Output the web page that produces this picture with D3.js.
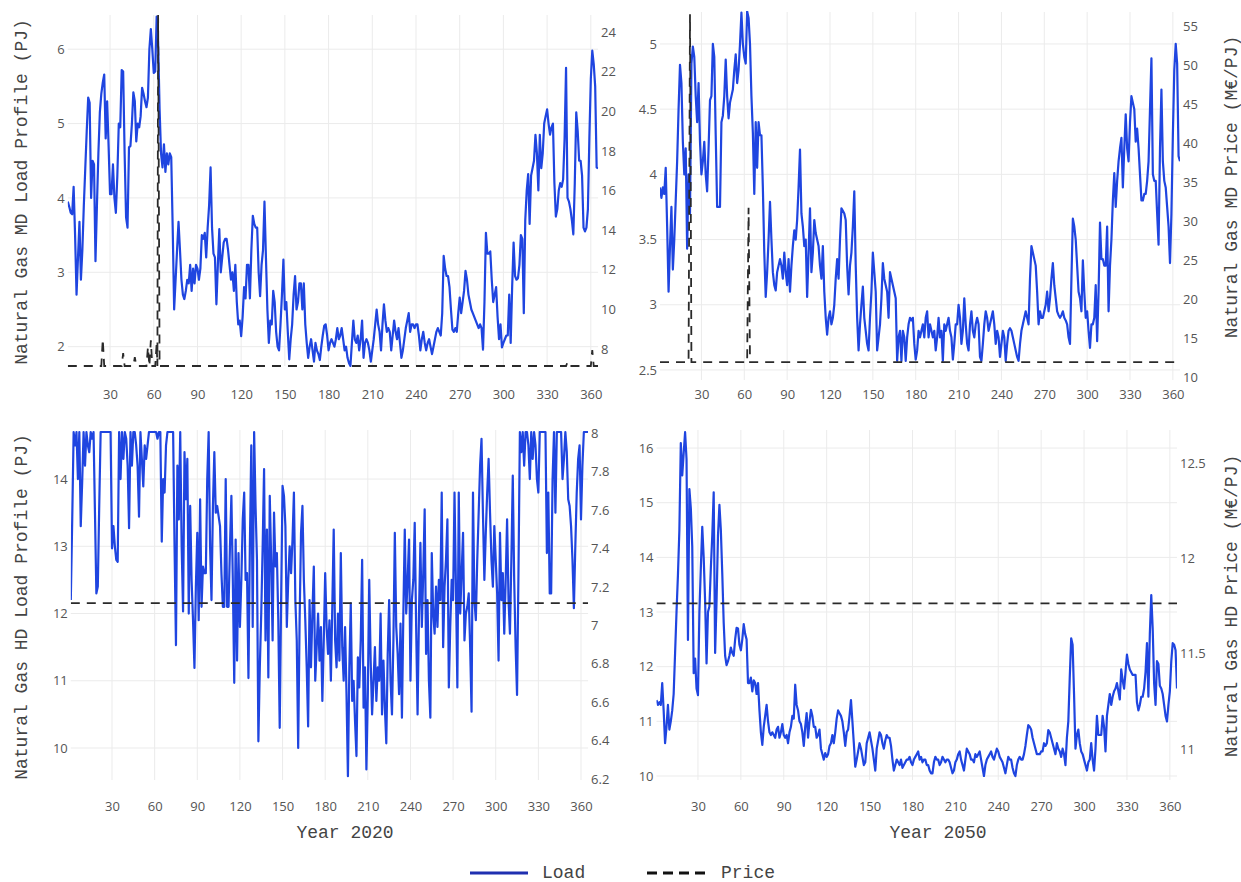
<!DOCTYPE html>
<html>
<head>
<meta charset="utf-8">
<script src="https://cdn.jsdelivr.net/npm/d3@7"></script>
<style>
  body { margin: 0; background: #fff; }
  .tick text { font-family: 'Open Sans', sans-serif; font-size: 13px; fill: #555; }
  .title { font-family: 'Liberation Mono', 'Courier New', monospace; font-size: 18px; fill: #444; }
</style>
</head>
<body>
<div id="chart"></div>
<script>
// day-of-year ticks
const xTicks = [30, 60, 90, 120, 150, 180, 210, 240, 270, 300, 330, 360]

// Natural Gas MD, 2020
const md2020Load = [
  3.95, 3.88, 3.8, 3.78, 4.15, 3.5, 2.7, 3.2, 3.68, 2.9,
  3.3, 3.9, 4.4, 4.9, 5.35, 5.28, 4.0, 4.5, 4.45, 3.15,
  3.9, 4.6, 5.15, 5.4, 5.55, 5.66, 4.8, 5.3, 4.7, 4.05,
  4.05, 4.45, 4.0, 3.8, 4.3, 5.0, 4.95, 5.72, 5.7, 4.6,
  3.74, 3.6, 4.68, 4.7, 5.0, 5.42, 5.3, 4.76, 5.0, 4.95,
  5.1, 5.48, 5.4, 5.3, 5.22, 5.35, 6.0, 6.27, 6.0, 5.68,
  5.7, 6.44, 6.1, 5.2, 4.6, 4.41, 4.72, 4.35, 4.6, 4.45,
  4.6, 4.55, 3.6, 2.5, 2.9, 3.3, 3.68, 3.3, 2.9, 2.7,
  2.64, 2.75, 2.9, 2.85, 3.1, 2.75, 3.05, 2.85, 3.1, 3.05,
  2.9, 3.05, 3.5, 3.45, 3.53, 3.2, 3.6, 3.9, 4.41, 3.6,
  3.25, 3.2, 2.57, 3.1, 3.58, 3.0, 3.2, 3.4, 3.45, 3.45,
  3.3, 3.1, 2.9, 3.0, 2.75, 3.1, 2.6, 2.3, 2.35, 2.14,
  2.4, 2.8, 2.65, 3.1, 3.1, 2.65, 3.3, 3.76, 3.65, 3.6,
  3.6, 3.0, 2.68, 3.1, 3.3, 3.95, 3.2, 2.5, 2.05, 2.35,
  2.3, 2.75, 2.6, 2.2, 2.0, 1.95, 2.3, 2.7, 3.17, 2.5,
  2.6, 2.2, 1.83, 2.1, 2.3, 2.7, 2.95, 2.5, 2.6, 2.85,
  2.85, 2.5, 2.85, 2.3, 2.05, 1.85, 2.0, 2.1, 1.95, 1.8,
  2.05, 1.95, 1.9, 1.82, 2.0, 2.15, 2.28, 2.3, 2.15, 1.95,
  2.05, 2.1, 2.05, 2.0, 2.1, 2.25, 2.1, 2.15, 2.25, 2.1,
  1.95, 2.0, 1.85, 1.78, 1.74, 2.05, 2.35, 2.1, 2.05, 2.15,
  1.95, 2.1, 2.35, 1.85, 2.05, 2.1, 2.05, 1.95, 1.8, 1.95,
  2.1, 2.3, 2.5, 2.3, 2.2, 1.95, 2.3, 2.57, 2.35, 2.2,
  2.25, 2.2, 1.95, 2.15, 2.35, 2.2, 2.1, 2.25, 2.05, 1.85,
  1.95, 2.1, 2.25, 2.35, 2.45, 2.2, 2.3, 2.3, 2.25, 2.3,
  2.3, 2.15, 1.95, 2.1, 2.2, 2.05, 1.95, 2.05, 2.1, 2.0,
  1.9, 2.0, 2.1, 2.2, 2.25, 2.2, 2.15, 2.45, 3.22, 3.05,
  2.95, 2.95, 2.8, 2.5, 2.23, 2.2, 2.25, 2.2, 2.45, 2.66,
  2.45, 2.6, 2.75, 3.02, 2.9, 2.7, 2.6, 2.5, 2.45, 2.4,
  2.35, 2.3, 2.25, 2.3, 2.25, 1.96, 2.6, 3.53, 3.25, 3.25,
  3.28, 2.9, 2.6, 2.7, 2.8, 2.4, 2.1, 2.3, 1.99, 2.05,
  2.1, 2.15, 2.15, 2.7, 2.05, 2.8, 3.4, 2.95, 2.9, 2.92,
  3.1, 3.5, 3.45, 2.45, 3.7, 4.1, 4.32, 3.65, 4.3, 4.4,
  4.5, 4.85, 4.6, 4.1, 4.85, 4.4, 4.6, 5.0, 5.1, 5.19,
  5.0, 4.85, 4.95, 5.0, 4.2, 3.75, 3.85, 4.1, 4.2, 4.15,
  4.25, 4.8, 5.75, 4.0, 3.95, 3.85, 3.7, 3.51, 4.2, 5.15,
  4.9, 4.5, 4.5, 4.3, 3.6, 3.55, 3.6, 3.85, 4.8, 5.6,
  5.98, 5.8, 5.5, 4.41, 4.4
]
// [day, price] break points
const md2020Price = [
  [1, 7.15], [24, 7.15], [25, 8.5], [26, 7.15], [38, 7.15], [39, 7.8], [40, 7.15],
  [46, 7.15], [47, 7.6], [48, 7.15], [55, 7.15], [56, 8.1], [57, 7.15], [58, 8.45],
  [59, 7.15], [61, 7.15], [62, 8.3], [62.5, 7.15], [63, 24.85], [64, 7.15],
  [343, 7.15], [344, 7.35], [345, 7.15], [360, 7.15], [361, 7.95], [362, 7.15], [365, 7.15]
]
const md2020LoadTicks = [2, 3, 4, 5, 6]
const md2020PriceTicks = [8, 10, 12, 14, 16, 18, 20, 22, 24]

// Natural Gas MD, 2050
const md2050Load = [
  3.9, 3.82, 3.9, 3.85, 4.05, 3.6, 3.1, 3.45, 3.75, 3.27,
  3.5, 3.8, 4.1, 4.5, 4.84, 4.7, 4.25, 4.0, 4.2, 3.43,
  4.0, 3.7, 4.85, 4.98, 4.9, 4.6, 4.4, 4.7, 4.25, 4.0,
  4.1, 4.25, 4.0, 3.87, 4.2, 4.57, 4.6, 5.0, 4.9, 4.3,
  3.75, 3.75, 3.75, 4.4, 4.45, 4.6, 4.88, 4.6, 4.43, 4.55,
  4.6, 4.65, 4.8, 4.92, 4.7, 4.8, 5.0, 5.24, 5.0, 4.9,
  4.85, 5.25, 5.2, 5.0, 4.6, 4.32, 3.85, 4.4, 4.05, 4.4,
  4.3, 4.3, 3.9, 3.4, 3.06, 3.25, 3.5, 3.79, 3.5, 3.25,
  3.15, 3.11, 3.25, 3.3, 3.35, 3.3, 3.2, 3.4, 3.25, 3.15,
  3.35, 3.1, 3.3, 3.45, 3.57, 3.5, 3.65, 3.9, 4.19, 3.7,
  3.6, 3.45, 3.5, 3.06, 3.4, 3.74, 3.25, 3.4, 3.65, 3.55,
  3.5, 3.45, 3.3, 3.2, 3.45, 3.1, 2.9, 2.77, 2.9, 2.95,
  2.85, 2.9, 3.0, 3.2, 3.35, 3.2, 3.5, 3.74, 3.72, 3.7,
  3.65, 3.3, 3.08, 3.3, 3.4, 3.6, 3.87, 3.3, 2.9, 2.65,
  2.85, 3.0, 3.14, 2.9, 2.8, 2.7, 2.65, 2.9, 3.1, 3.4,
  3.25, 3.1, 2.65, 2.75, 2.85, 3.05, 3.32, 3.2, 3.15, 3.1,
  2.9, 3.25, 3.2, 3.15, 3.1, 3.05, 2.57, 2.75, 2.8, 2.57,
  2.8, 2.75, 2.57, 2.75, 2.85, 2.9, 2.88, 2.9, 2.7, 2.58,
  2.65, 2.8, 2.75, 2.8, 2.85, 2.75, 2.9, 2.95, 2.75, 2.85,
  2.8, 2.75, 2.8, 2.65, 2.75, 2.9, 2.75, 2.8, 2.57, 2.85,
  2.8, 2.85, 2.9, 2.8, 2.75, 2.58, 2.7, 2.85, 2.85, 3.0,
  2.9, 2.7, 2.8, 3.05, 2.85, 2.7, 2.65, 2.85, 2.95, 2.8,
  2.75, 2.85, 2.9, 2.85, 2.6, 2.57, 2.7, 2.85, 2.95, 2.9,
  2.8, 2.85, 2.9, 2.95, 2.85, 2.7, 2.8, 2.75, 2.6, 2.7,
  2.8, 2.75, 2.57, 2.7, 2.8, 2.82, 2.8, 2.75, 2.7, 2.65,
  2.6, 2.57, 2.7, 2.8, 2.85, 2.9, 2.95, 2.9, 2.85, 3.2,
  3.45, 3.4, 3.35, 3.3, 3.1, 2.85, 2.95, 2.9, 2.9, 2.95,
  3.0, 3.1, 2.95, 3.05, 3.2, 3.32, 3.15, 3.05, 2.95, 2.92,
  2.9, 2.92, 2.95, 2.9, 2.88, 2.85, 2.75, 2.7, 3.2, 3.66,
  3.6, 3.5, 3.3, 3.1, 3.05, 2.95, 3.34, 3.1, 2.9, 2.95,
  2.8, 2.67, 2.85, 2.85, 2.9, 3.15, 2.72, 3.1, 3.63, 3.35,
  3.35, 3.3, 3.3, 3.6, 2.95, 3.3, 3.5, 3.8, 4.01, 3.75,
  3.95, 4.1, 4.2, 4.28, 3.9, 4.2, 4.46, 4.2, 4.1, 4.4,
  4.6, 4.55, 4.5, 4.25, 4.35, 4.2, 4.0, 3.8, 3.8, 3.85,
  3.85, 3.95, 4.1, 4.5, 4.89, 4.0, 3.95, 3.95, 3.7, 3.46,
  4.2, 4.65, 4.1, 3.95, 3.9, 3.75, 3.6, 3.32, 3.7, 4.3,
  4.8, 5.0, 4.85, 4.14, 4.1
]
const md2050Price = [
  [1, 11.9], [21, 11.9], [22, 56.5], [23, 11.9], [62, 11.9], [63, 31.7], [64, 11.9], [365, 11.9]
]
const md2050LoadTicks = [2.5, 3, 3.5, 4, 4.5, 5]
const md2050PriceTicks = [10, 15, 20, 25, 30, 35, 40, 45, 50, 55]

// Natural Gas HD, 2020
const hd2020Load = [
  12.2, 13.4, 14.7, 14.5, 14.7, 14.0, 14.7, 13.3, 13.95, 14.7,
  14.2, 14.7, 14.5, 14.4, 14.7, 14.6, 14.7, 13.5, 12.3, 12.4,
  13.6, 14.7, 14.7, 14.7, 14.7, 14.7, 14.7, 14.7, 14.7, 12.97,
  13.3, 13.0, 12.8, 12.77, 14.7, 14.0, 14.7, 14.3, 14.7, 14.6,
  14.2, 13.27, 14.7, 14.2, 14.7, 14.7, 14.5, 14.2, 13.44, 14.7,
  14.3, 13.89, 14.5, 14.3, 14.5, 14.7, 14.7, 14.7, 14.7, 14.7,
  14.7, 14.6, 14.7, 14.7, 13.07, 14.0, 13.8, 14.5, 14.7, 14.7,
  14.7, 14.7, 14.7, 13.0, 11.53, 14.2, 13.4, 14.7, 13.0, 12.03,
  14.4, 13.7, 14.3, 12.0, 13.6, 12.5, 11.9, 11.19, 12.4, 13.2,
  11.9, 13.7, 12.1, 12.7, 12.6, 12.6, 14.0, 14.7, 13.0, 12.2,
  13.6, 14.4, 13.5, 13.6, 13.45, 13.3, 12.6, 12.1, 12.1, 14.0,
  12.1, 12.1, 13.0, 13.75, 12.5, 10.97, 13.1, 11.3, 12.9, 11.8,
  12.5, 13.4, 13.8, 12.5, 12.6, 11.04, 13.0, 14.5, 11.8, 14.7,
  13.6, 12.8, 10.1, 11.2, 12.0, 13.0, 14.15, 11.6, 13.25, 11.05,
  13.75, 12.8, 11.6, 13.5, 12.7, 12.9, 11.9, 10.3, 12.2, 13.9,
  13.75, 13.3, 11.8, 12.5, 13.0, 12.6, 13.1, 13.8, 12.2, 11.6,
  10.0, 11.9, 13.2, 13.6, 12.5, 11.9, 11.2, 10.32, 12.2, 11.2,
  12.0, 12.7, 11.0, 11.5, 12.0, 11.3, 11.8, 10.7, 11.6, 12.6,
  11.8, 11.4, 11.9, 11.0, 12.1, 13.25, 11.6, 11.2, 12.0, 11.3,
  12.9, 11.5, 11.0, 11.8, 10.8, 9.58, 11.2, 12.15, 10.7, 11.0,
  10.4, 9.88, 11.35, 10.9, 11.6, 12.8, 10.6, 11.2, 9.68, 10.8,
  12.5, 11.3, 10.5, 11.0, 11.5, 10.7, 11.2, 11.0, 12.0, 10.5,
  11.3, 10.6, 10.07, 11.4, 12.2, 11.0, 10.5, 11.6, 13.2, 11.8,
  11.4, 10.8, 11.85, 10.45, 12.0, 13.25, 12.0, 12.5, 13.1, 11.0,
  12.2, 12.5, 13.35, 11.8, 10.5, 12.0, 13.05, 11.8, 12.6, 13.55,
  11.4, 12.2, 11.0, 10.45, 12.9, 12.0, 11.7, 12.4, 11.8, 12.5,
  12.2, 13.8, 11.5, 12.4, 12.8, 13.4, 10.9, 11.8, 12.5, 12.2,
  13.8, 12.4, 10.9, 13.8, 12.0, 12.6, 13.2, 11.6, 12.0, 12.1,
  12.3, 11.5, 10.54, 13.8, 12.2, 11.9, 12.8, 13.5, 14.2, 14.6,
  13.5, 12.5, 13.2, 13.8, 14.3, 13.5, 12.8, 12.4, 13.3, 12.8,
  12.3, 11.3, 13.2, 12.2, 12.6, 11.7, 12.5, 13.4, 12.2, 11.7,
  12.8, 14.05, 12.5, 11.5, 10.79, 12.6, 14.7, 14.4, 14.7, 14.2,
  14.7, 14.7, 14.5, 14.0, 14.7, 14.3, 14.7, 14.5, 14.0, 13.8,
  14.7, 14.7, 14.7, 14.7, 14.7, 12.9, 13.8, 12.3, 12.3, 14.0,
  14.7, 13.5, 14.7, 14.7, 14.7, 14.7, 14.0, 14.3, 14.7, 14.4,
  13.7, 13.6, 13.3, 12.8, 12.08, 13.0, 13.8, 14.3, 14.5, 13.4,
  14.2, 14.7, 14.7, 14.7, 14.7
]
const hd2020Price = [[1, 7.115], [365, 7.115]]
const hd2020LoadTicks = [10, 11, 12, 13, 14]
const hd2020PriceTicks = [6.2, 6.4, 6.6, 6.8, 7, 7.2, 7.4, 7.6, 7.8, 8]

// Natural Gas HD, 2050
const hd2050Load = [
  11.39, 11.3, 11.35, 11.3, 11.7, 11.2, 10.6, 10.9, 11.3, 10.85,
  11.0, 11.2, 11.5, 12.25, 13.0, 13.68, 14.5, 16.09, 15.5, 15.9,
  16.29, 15.8, 12.49, 15.25, 14.9, 14.2, 11.88, 12.15, 11.6, 11.48,
  13.0, 13.8, 14.56, 14.0, 13.2, 12.06, 13.0, 13.1, 13.8, 14.4,
  15.19, 12.25, 13.2, 14.4, 14.96, 14.5, 13.7, 12.8, 12.2, 12.03,
  12.1, 12.2, 12.35, 12.25, 12.2, 12.5, 12.71, 12.7, 12.4, 12.3,
  12.5, 12.78, 12.6, 12.5, 11.7, 11.7, 11.8, 11.55, 11.75, 11.7,
  11.5, 11.7, 11.2, 10.8, 10.57, 10.9, 11.1, 11.3, 11.0, 10.8,
  10.75, 10.8, 10.75, 10.7, 10.85, 10.9, 10.7, 10.8, 10.95, 10.75,
  10.7, 10.75, 10.6, 10.8, 10.9, 11.1, 11.05, 11.67, 11.3, 11.2,
  11.0, 10.95, 10.8, 10.55, 10.9, 11.15, 10.7, 11.0, 11.21, 11.1,
  10.9, 10.9, 10.7, 10.75, 10.85, 10.5, 10.4, 10.3, 10.42, 10.35,
  10.4, 10.55, 10.6, 10.75, 10.6, 10.8, 11.05, 11.2, 11.15, 11.1,
  11.0, 10.8, 10.55, 10.8, 10.85, 11.1, 11.39, 11.0, 10.6, 10.17,
  10.3, 10.45, 10.6, 10.5, 10.35, 10.2, 10.25, 10.6, 10.7, 10.8,
  10.65, 10.5, 10.3, 10.1, 10.5, 10.65, 10.8, 10.75, 10.6, 10.5,
  10.65, 10.75, 10.7, 10.7, 10.55, 10.3, 10.1, 10.2, 10.3, 10.25,
  10.2, 10.3, 10.15, 10.2, 10.25, 10.3, 10.3, 10.35, 10.25, 10.2,
  10.3, 10.35, 10.4, 10.45, 10.3, 10.35, 10.25, 10.3, 10.3, 10.2,
  10.2, 10.1, 10.05, 10.05, 10.25, 10.35, 10.3, 10.3, 10.2, 10.25,
  10.35, 10.3, 10.25, 10.3, 10.3, 10.25, 10.15, 10.05, 10.1, 10.25,
  10.3, 10.4, 10.45, 10.3, 10.2, 10.1, 10.3, 10.5, 10.45, 10.4,
  10.3, 10.3, 10.25, 10.4, 10.35, 10.4, 10.45, 10.3, 10.15, 10.0,
  10.2, 10.3, 10.35, 10.4, 10.45, 10.35, 10.3, 10.4, 10.5, 10.45,
  10.35, 10.3, 10.25, 10.15, 10.05, 10.2, 10.35, 10.3, 10.3, 10.15,
  10.05, 10.0, 10.2, 10.3, 10.35, 10.3, 10.3, 10.4, 10.55, 10.75,
  10.93, 10.9, 10.85, 10.7, 10.6, 10.5, 10.4, 10.4, 10.4, 10.45,
  10.45, 10.6, 10.55, 10.6, 10.84, 10.8, 10.7, 10.6, 10.5, 10.4,
  10.6, 10.5, 10.45, 10.35, 10.5, 10.4, 10.2, 10.7, 11.0, 11.8,
  12.52, 12.4, 11.5, 10.5, 10.75, 10.85, 10.6, 10.45, 10.4, 10.3,
  10.2, 10.1, 10.25, 10.3, 10.6, 10.3, 10.1, 10.5, 11.1, 10.75,
  10.75, 10.75, 11.1, 10.9, 10.45, 11.1, 11.3, 11.5, 11.3, 11.45,
  11.55, 11.6, 11.7, 11.55, 11.4, 11.95, 11.75, 11.6, 11.9, 12.22,
  12.05, 11.95, 11.9, 11.85, 11.85, 11.85, 11.35, 11.2, 11.3, 11.45,
  11.45, 11.6, 11.9, 12.43, 11.45, 12.6, 13.31, 12.7, 11.7, 11.3,
  12.1, 12.05, 11.65, 11.6, 11.5, 11.3, 11.1, 11.0, 11.3, 11.55,
  12.1, 12.43, 12.4, 12.3, 11.6
]
const hd2050Price = [[1, 11.764], [365, 11.764]]
const hd2050LoadTicks = [10, 11, 12, 13, 14, 15, 16]
const hd2050PriceTicks = [11, 11.5, 12, 12.5]

const chartWidth = 1241
const chartHeight = 882
const loadColor = '#1f45e0'

const svg = d3
  .select('#chart')
  .append('svg')
  .attr('width', chartWidth)
  .attr('height', chartHeight)
  .style('background', '#fff')

// layout of the four panels
const panels = [
  {
    id: 'md2020', load: md2020Load, price: md2020Price,
    loadTicks: md2020LoadTicks, priceTicks: md2020PriceTicks,
    x0: 67.8, x1: 598.1, top: 15, bottom: 366,
    loadDomain: [1.74, 6.46], priceDomain: [7.15, 24.85], tickY: 399,
    leftTitle: 'Natural Gas MD Load Profile (PJ)', leftTitleY: 192,
  },
  {
    id: 'md2050', load: md2050Load, price: md2050Price,
    loadTicks: md2050LoadTicks, priceTicks: md2050PriceTicks,
    x0: 660, x1: 1180, top: 12, bottom: 380,
    loadDomain: [2.423, 5.245], priceDomain: [9.615, 56.8], tickY: 399,
    rightTitle: 'Natural Gas MD Price (M€/PJ)', rightTitleY: 187,
  },
  {
    id: 'hd2020', load: hd2020Load, price: hd2020Price,
    loadTicks: hd2020LoadTicks, priceTicks: hd2020PriceTicks,
    x0: 70.8, x1: 588.1, top: 430, bottom: 780,
    loadDomain: [9.524, 14.73], priceDomain: [6.195, 8.016], tickY: 811,
    leftTitle: 'Natural Gas HD Load Profile (PJ)', leftTitleY: 607,
    xTitle: 'Year 2020', xTitleX: 345,
  },
  {
    id: 'hd2050', load: hd2050Load, price: hd2050Price,
    loadTicks: hd2050LoadTicks, priceTicks: hd2050PriceTicks,
    x0: 656.5, x1: 1177, top: 430, bottom: 780,
    loadDomain: [9.927, 16.33], priceDomain: [10.837, 12.673], tickY: 811,
    rightTitle: 'Natural Gas HD Price (M€/PJ)', rightTitleY: 606,
    xTitle: 'Year 2050', xTitleX: 938,
  },
]

function drawPanel(p) {
  const scaleX = d3.scaleLinear().domain([1, 365]).range([p.x0, p.x1])
  const scaleLoad = d3.scaleLinear().domain(p.loadDomain).range([p.bottom, p.top])
  const scalePrice = d3.scaleLinear().domain(p.priceDomain).range([p.bottom, p.top])
  const g = svg.append('g').attr('id', p.id)

  // grid
  g.append('g')
    .selectAll('line')
    .data(xTicks)
    .enter()
    .append('line')
    .attr('x1', d => scaleX(d))
    .attr('x2', d => scaleX(d))
    .attr('y1', p.top)
    .attr('y2', p.bottom)
    .attr('stroke', '#ebebeb')
    .attr('stroke-width', 1)

  g.append('g')
    .selectAll('line')
    .data(p.loadTicks)
    .enter()
    .append('line')
    .attr('x1', p.x0)
    .attr('x2', p.x1)
    .attr('y1', d => scaleLoad(d))
    .attr('y2', d => scaleLoad(d))
    .attr('stroke', '#ebebeb')
    .attr('stroke-width', 1)

  // axes (labels only)
  const fmt = d => String(d)
  g.append('g')
    .attr('transform', 'translate(0,' + (p.tickY - 9) + ')')
    .call(d3.axisBottom(scaleX).tickValues(xTicks).tickSize(0).tickPadding(0).tickFormat(fmt))
    .call(a => a.select('.domain').remove())

  g.append('g')
    .attr('transform', 'translate(' + (p.x0 - 3) + ',0)')
    .call(d3.axisLeft(scaleLoad).tickValues(p.loadTicks).tickSize(0).tickPadding(0).tickFormat(fmt))
    .call(a => a.select('.domain').remove())

  g.append('g')
    .attr('transform', 'translate(' + (p.x1 + 3) + ',0)')
    .call(d3.axisRight(scalePrice).tickValues(p.priceTicks).tickSize(0).tickPadding(0).tickFormat(fmt))
    .call(a => a.select('.domain').remove())

  // clip to plot area
  svg
    .append('clipPath')
    .attr('id', 'clip-' + p.id)
    .append('rect')
    .attr('x', p.x0)
    .attr('y', p.top - 1)
    .attr('width', p.x1 - p.x0)
    .attr('height', p.bottom - p.top + 2)

  const plot = g.append('g').attr('clip-path', 'url(#clip-' + p.id + ')')

  const loadLine = d3
    .line()
    .x((d, i) => scaleX(i + 1))
    .y(d => scaleLoad(d))

  plot
    .append('path')
    .datum(p.load)
    .attr('d', loadLine)
    .attr('fill', 'none')
    .attr('stroke', loadColor)
    .attr('stroke-width', 2.2)
    .attr('stroke-linejoin', 'round')

  const priceLine = d3
    .line()
    .x(d => scaleX(d[0]))
    .y(d => scalePrice(d[1]))

  plot
    .append('path')
    .datum(p.price)
    .attr('d', priceLine)
    .attr('fill', 'none')
    .attr('stroke', '#2a2a2a')
    .attr('stroke-width', 1.8)
    .attr('stroke-dasharray', '9,7')

  // titles
  if (p.leftTitle) {
    g.append('text')
      .attr('class', 'title')
      .attr('transform', 'translate(27,' + p.leftTitleY + ') rotate(-90)')
      .attr('text-anchor', 'middle')
      .text(p.leftTitle)
  }
  if (p.rightTitle) {
    g.append('text')
      .attr('class', 'title')
      .attr('transform', 'translate(1237,' + p.rightTitleY + ') rotate(-90)')
      .attr('text-anchor', 'middle')
      .text(p.rightTitle)
  }
  if (p.xTitle) {
    g.append('text')
      .attr('class', 'title')
      .attr('x', p.xTitleX)
      .attr('y', 838)
      .attr('text-anchor', 'middle')
      .text(p.xTitle)
  }
}
panels.forEach(drawPanel)

// Legend
function createLegend() {
  const legend = svg.append('g').attr('class', 'legend')
  legend.append('line')
    .attr('x1', 470).attr('x2', 528).attr('y1', 873).attr('y2', 873)
    .attr('stroke', '#1f2fb0').attr('stroke-width', 3)
  legend.append('text')
    .attr('class', 'title').attr('x', 542).attr('y', 878)
    .text('Load')
  legend.append('line')
    .attr('x1', 647).attr('x2', 705).attr('y1', 873).attr('y2', 873)
    .attr('stroke', '#111').attr('stroke-width', 3)
    .attr('stroke-dasharray', '10,6')
  legend.append('text')
    .attr('class', 'title').attr('x', 721).attr('y', 878)
    .text('Price')
}
createLegend()
</script>
</body>
</html>
